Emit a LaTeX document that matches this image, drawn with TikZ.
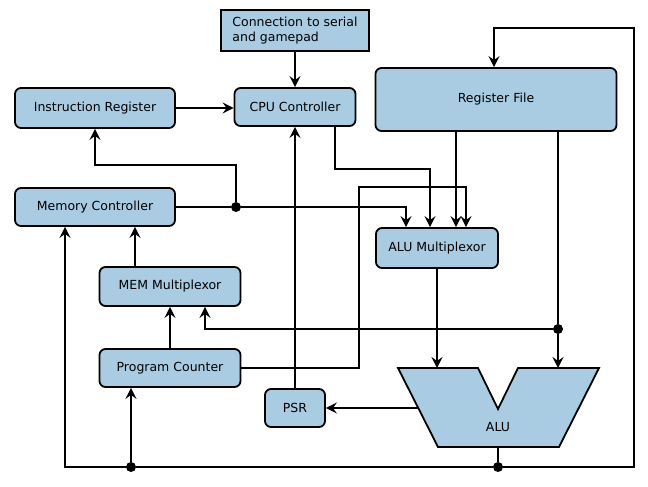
\documentclass[tikz,border=0pt]{standalone}
\usepackage{fontspec}
\setmainfont{DejaVu Sans}
\usetikzlibrary{arrows.meta}
\definecolor{boxblue}{RGB}{169,204,227}

\begin{document}
\begin{tikzpicture}[x=1pt,y=-1pt,font=\fontsize{12.5}{15.5}\selectfont]
\tikzstyle{unit} = [rectangle, rounded corners=6pt, draw, fill=boxblue, line width=1.8pt, inner sep=0pt]
\tikzstyle{port} = [rectangle, draw, fill=boxblue, line width=1.8pt, align=left, inner sep=0pt, minimum width=148pt, minimum height=41pt]
\tikzstyle{wire} = [line width=2pt]
\tikzstyle{arrow} = [wire,-{Stealth[length=11pt,width=11pt,inset=4pt]}]
\tikzstyle{dot} = [fill, circle, inner sep=0pt, minimum size=10pt]

\useasboundingbox (0,0) rectangle (648,487);

\node (conn) [port] at (295,30.5) {Connection to serial\\and gamepad};
\node (ir) [unit, minimum width=160pt, minimum height=40pt] at (95,108) {Instruction Register};
\node (cpu) [unit, minimum width=121pt, minimum height=38pt] at (295,107) {CPU Controller};
\node (regs) [unit, minimum width=241pt, minimum height=63pt] at (496,99.5) {Register File};
\node (memctl) [unit, minimum width=160pt, minimum height=38pt] at (95,207) {Memory Controller};
\node (alumux) [unit, minimum width=122pt, minimum height=40pt] at (437,248) {ALU Multiplexor};
\node (memmux) [unit, minimum width=141pt, minimum height=39pt] at (170,286.5) {MEM Multiplexor};
\node (pc) [unit, minimum width=141pt, minimum height=38pt] at (170,368) {Program Counter};
\node (psr) [unit, minimum width=60pt, minimum height=38pt] at (295,408) {PSR};

% ALU
\draw [fill=boxblue, line width=1.8pt] (398,368) -- (478,368) -- (498,409) -- (518,368) -- (599,368) -- (559,447) -- (438,447) -- cycle;
\node (alu) at (498,427) {ALU};
\coordinate (alu-a) at (437,368);
\coordinate (alu-b) at (558,368);
\coordinate (alu-f) at (418,408);
\coordinate (alu-o) at (498,447);

% junctions
\node (jmem) [dot] at (236,207) {};
\node (jreg) [dot] at (558,329) {};
\node (jalu) [dot] at (498,467) {};
\node (jpc) [dot] at (131,467) {};

\draw [arrow] (conn.south) -- (conn.south |- cpu.north);
\draw [arrow] (ir.east) -- (ir.east -| cpu.west);
\draw [wire] (memctl.east) -- (jmem);
\draw [arrow] (jmem) -| ([xshift=-31]alumux.north);
\draw [arrow] (jmem) -- (236,165) -| (ir.south);
\draw [arrow] ([xshift=40]cpu.south) -- ++(0,42) -| ([xshift=-7]alumux.north);
\draw [arrow] ([xshift=-40]regs.south) -- ([xshift=19]alumux.north);
\draw [arrow] (pc.east) -| (359,187) -| ([xshift=29]alumux.north);
\draw [wire] ([xshift=62]regs.south) -- (jreg);
\draw [arrow] (jreg) -- (alu-b);
\draw [arrow] (jreg) -| ([xshift=35]memmux.south);
\draw [arrow] (alumux.south) -- (alu-a);
\draw [arrow] (alu-f) -- (psr.east);
\draw [arrow] (psr.north) -- (psr.north |- cpu.south);
\draw [wire] (alu-o) -- (jalu);
\draw [arrow] (jalu) -| (634,28) -| ([xshift=-2]regs.north);
\draw [wire] (jalu) -- (jpc);
\draw [arrow] (jpc) -| ([xshift=-30]memctl.south);
\draw [arrow] (jpc) -- ([xshift=-39]pc.south);
\draw [arrow] ([xshift=-35]memmux.north) -- ([xshift=-35]memmux.north |- memctl.south);
\draw [arrow] (pc.north) -- (memmux.south);
\end{tikzpicture}
\end{document}
